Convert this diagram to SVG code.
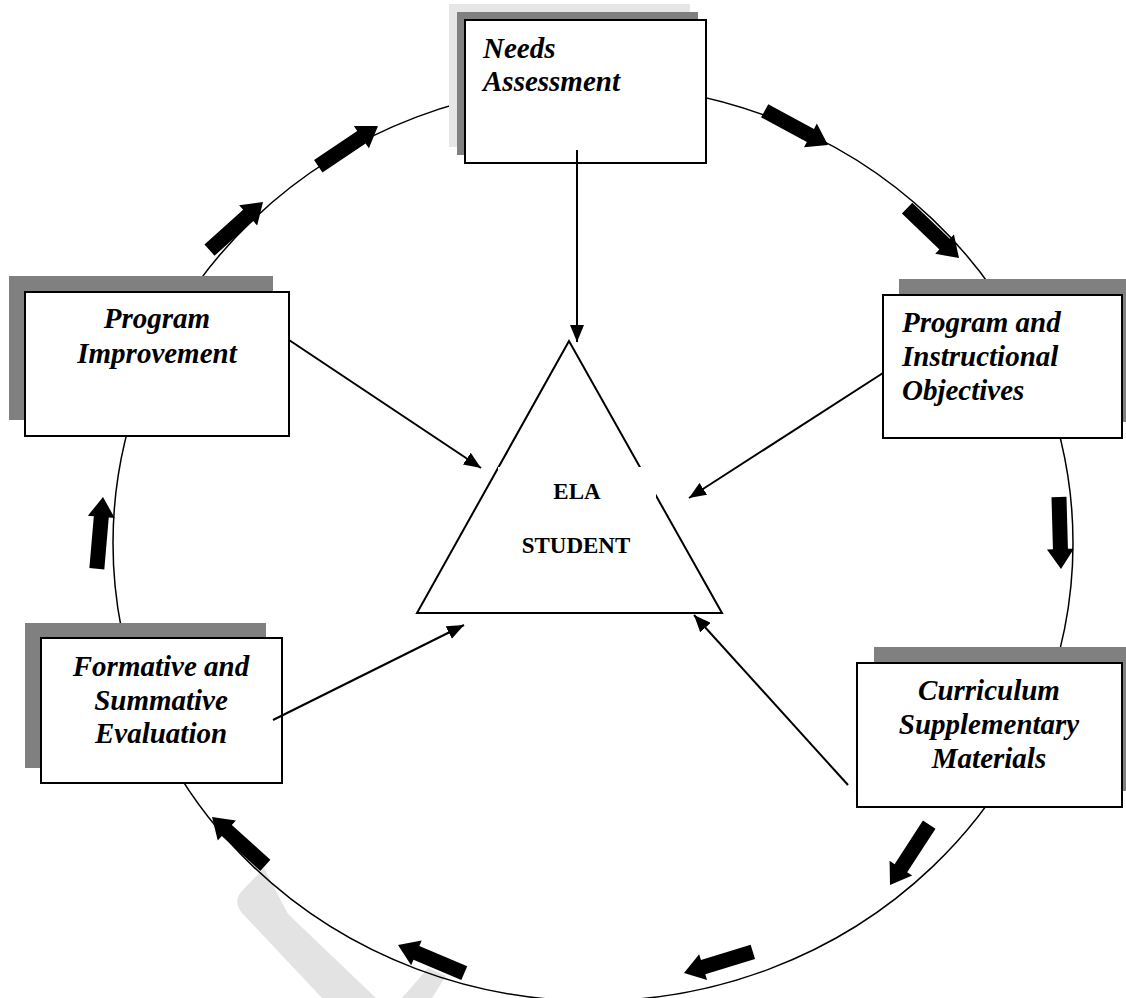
<svg xmlns="http://www.w3.org/2000/svg" width="1126" height="998" viewBox="0 0 1126 998">
<style>
.box{fill:#fff;stroke:#000;stroke-width:2}
.sh{fill:#808080}
.sh2{fill:#e6e6e6}
.wm{fill:#e3e3e3}
.bt{font-family:"Liberation Serif","Times New Roman",serif;font-weight:bold;font-style:italic;font-size:29px;fill:#000}
.ct{text-anchor:middle}
.tt{font-family:"Liberation Serif","Times New Roman",serif;font-weight:bold;font-size:23px;fill:#000;text-anchor:middle}
.con{stroke:#000;stroke-width:2;fill:none;marker-end:url(#ah)}
.blk{fill:#000}
</style>
<defs>
<marker id="ah" markerUnits="userSpaceOnUse" markerWidth="18" markerHeight="14" refX="17" refY="7" orient="auto">
<path d="M0,0 L17,7 L0,14 z" fill="#000"/>
</marker>
<polygon id="blk" points="-72,-7.5 -20,-7.5 -20,-13.5 0,0 -20,13.5 -20,7.5 -72,7.5"/>
</defs>
<rect width="1126" height="998" fill="#fff"/>
<g id="watermark">
<path class="wm" d="M264,868 L241,892 Q233,902 242,913 L322,998 L376,998 L288,914 Z"/>
<path class="wm" d="M416,982 L428,968 L446,976 L432,998 L402,998 Z"/>
</g>
<g id="cycle">
<ellipse cx="593" cy="543" rx="480" ry="458" fill="none" stroke="#000" stroke-width="1.5"/>
<g class="blk">
<use href="#blk" transform="translate(828,145) rotate(28.4)"/>
<use href="#blk" transform="translate(959,258) rotate(43.9)"/>
<use href="#blk" transform="translate(1061,569) rotate(88.4)"/>
<use href="#blk" transform="translate(890,885) rotate(123)"/>
<use href="#blk" transform="translate(684,973) rotate(163)"/>
<use href="#blk" transform="translate(398,945) rotate(-157)"/>
<use href="#blk" transform="translate(212,817) rotate(-137.8)"/>
<use href="#blk" transform="translate(103,497) rotate(-85.1)"/>
<use href="#blk" transform="translate(263,202) rotate(-42)"/>
<use href="#blk" transform="translate(378,126) rotate(-33.9)"/>
</g>
</g>
<g id="student">
<polygon points="569,341 417,613 722,613" fill="#fff" stroke="#000" stroke-width="2"/>
<rect x="498" y="467" width="158" height="110" fill="#fff"/>
<text class="tt" x="577" y="499">ELA</text>
<text class="tt" x="576" y="553">STUDENT</text>
</g>
<g id="needs">
<rect class="sh2" x="449" y="4" width="241" height="143"/>
<rect class="sh" x="457" y="12" width="241" height="143"/>
<rect class="box" x="465" y="20" width="241" height="143"/>
<text class="bt" x="483" y="58">Needs</text>
<text class="bt" x="483" y="91">Assessment</text>
</g>
<g id="improvement">
<rect class="sh" x="9" y="276" width="264" height="144"/>
<rect class="box" x="25" y="292" width="264" height="144"/>
<text class="bt ct" x="157" y="328">Program</text>
<text class="bt ct" x="157" y="363">Improvement</text>
</g>
<g id="objectives">
<rect class="sh" x="899" y="279" width="239" height="143"/>
<rect class="box" x="883" y="295" width="239" height="143"/>
<text class="bt" x="902" y="332">Program and</text>
<text class="bt" x="902" y="366">Instructional</text>
<text class="bt" x="902" y="400">Objectives</text>
</g>
<g id="evaluation">
<rect class="sh" x="25" y="623" width="241" height="145"/>
<rect class="box" x="41" y="638" width="241" height="145"/>
<text class="bt ct" x="161" y="676">Formative and</text>
<text class="bt ct" x="161" y="710">Summative</text>
<text class="bt ct" x="161" y="743">Evaluation</text>
</g>
<g id="curriculum">
<rect class="sh" x="874" y="647" width="265" height="144"/>
<rect class="box" x="857" y="663" width="265" height="144"/>
<text class="bt ct" x="989" y="700">Curriculum</text>
<text class="bt ct" x="989" y="734">Supplementary</text>
<text class="bt ct" x="989" y="768">Materials</text>
</g>
<g id="connectors">
<line class="con" x1="577" y1="150" x2="577" y2="342"/>
<line class="con" x1="289" y1="340" x2="481" y2="468"/>
<line class="con" x1="883" y1="373" x2="689" y2="498"/>
<line class="con" x1="273" y1="720" x2="464" y2="625"/>
<line class="con" x1="848" y1="785" x2="694" y2="615"/>
</g>
</svg>
